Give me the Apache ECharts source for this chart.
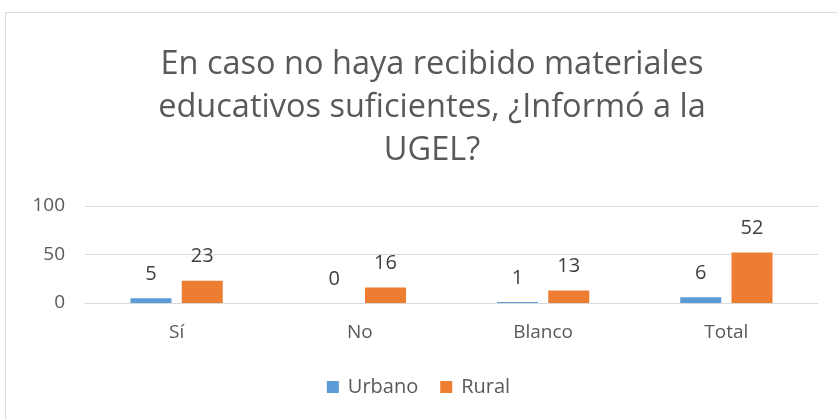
<!DOCTYPE html>
<html>
<head>
<meta charset="utf-8">
<script src="https://cdn.jsdelivr.net/npm/echarts@6/dist/echarts.min.js"></script>
<style>
  html, body { margin: 0; padding: 0; background: #fff; }
  #chart { width: 837px; height: 419px; }
</style>
</head>
<body>
<div id="chart"></div>
<script>
const categories = ['Sí', 'No', 'Blanco', 'Total']
const urbano = [5, 0, 1, 6]
const rural = [23, 16, 13, 52]
const yTicks = [0, 50, 100]

const font = 'Open Sans, sans-serif'
const chart = echarts.init(document.getElementById('chart'))

chart.setOption({
  animation: false,
  textStyle: { fontFamily: font },
  title: {
    text: 'En caso no haya recibido materiales\neducativos suficientes, ¿Informó a la\nUGEL?',
    left: 427,
    textAlign: 'center',
    top: 38,
    textStyle: {
      color: '#595959',
      fontSize: 32.5,
      fontWeight: 'normal',
      lineHeight: 43,
      fontFamily: font,
    },
  },
  graphic: [{
    type: 'rect',
    silent: true,
    shape: { x: 5.5, y: 12.5, width: 900, height: 500 },
    style: { fill: 'none', stroke: '#d9d9d9', lineWidth: 1 },
  }],
  legend: {
    bottom: 17,
    left: 'center',
    itemWidth: 12,
    itemHeight: 12,
    itemGap: 22,
    icon: 'rect',
    textStyle: { color: '#595959', fontSize: 20, fontFamily: font, padding: [0, 0, 0, 4] },
    data: ['Urbano', 'Rural'],
  },
  grid: { left: 85, right: 19, top: 206, bottom: 116 },
  xAxis: {
    type: 'category',
    data: categories,
    axisTick: { show: false },
    axisLine: { lineStyle: { color: '#d9d9d9' } },
    axisLabel: { color: '#595959', fontSize: 19, margin: 20 },
  },
  yAxis: {
    type: 'value',
    min: yTicks[0],
    max: yTicks[yTicks.length - 1],
    interval: 50,
    axisLine: { show: false },
    axisTick: { show: false },
    axisLabel: { color: '#595959', fontSize: 19, margin: 20 },
    splitLine: { lineStyle: { color: '#d9d9d9' } },
  },
  series: [
    {
      name: 'Urbano',
      type: 'bar',
      data: urbano,
      barWidth: 41,
      barGap: '25%',
      itemStyle: { color: '#5b9bd5' },
      label: { show: true, position: 'top', distance: 14, color: '#404040', fontSize: 20 },
    },
    {
      name: 'Rural',
      type: 'bar',
      data: rural,
      barWidth: 41,
      itemStyle: { color: '#ed7d31' },
      label: { show: true, position: 'top', distance: 14, color: '#404040', fontSize: 20 },
    },
  ],
})
</script>
</body>
</html>
